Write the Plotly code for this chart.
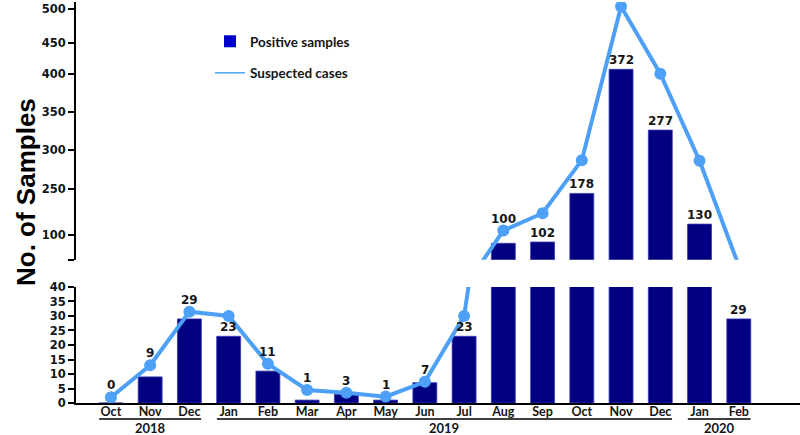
import plotly.graph_objects as go

# ---------------- data ----------------
months = ["Oct", "Nov", "Dec", "Jan", "Feb", "Mar", "Apr", "May", "Jun", "Jul",
          "Aug", "Sep", "Oct", "Nov", "Dec", "Jan", "Feb"]
years = ["2018"] * 3 + ["2019"] * 12 + ["2020"] * 2
positive = [0, 9, 29, 23, 11, 1, 3, 1, 7, 23, 100, 102, 178, 372, 277, 130, 29]
suspected = [2, 13, 31.5, 30, 13.5, 4.5, 3.5, 2.2, 7.3, 30, 120, 147, 230, 470, 365, 229, 65]
low_ticks = [0, 5, 10, 15, 20, 25, 30, 35, 40]
high_tick_labels = ["100", "250", "300", "350", "400", "450", "500"]

# ---------------- layout constants ----------------
W, H = 800, 435
M_L, M_R, M_T, M_B = 76, 0, 2, 32
PLOT_H = H - M_T - M_B
LOW_DOM = [0, 0.2893]
HIGH_DOM = [0.3574, 1.0]
LOW_RANGE = [0, 40]
HIGH_RANGE = [74.4, 477.2]
# where the (broken) upper-axis tick labels sit on the upper scale
high_tick_pos = [113, 185, 246, 306, 365, 413, 466]
X_RANGE = [-0.89, 17.56]

BAR_COLOR = "#000080"
LINE_COLOR = "#4da0f5"
TXT = "#151515"

x = list(range(len(months)))

low_px = (LOW_DOM[1] - LOW_DOM[0]) * PLOT_H / (LOW_RANGE[1] - LOW_RANGE[0])
high_px = (HIGH_DOM[1] - HIGH_DOM[0]) * PLOT_H / (HIGH_RANGE[1] - HIGH_RANGE[0])


def py(pix):
    return (H - M_B - pix) / PLOT_H


fig = go.Figure()

bar_style = dict(marker=dict(color=BAR_COLOR, line=dict(color="#3a3ab8", width=0.8)),
                 showlegend=False, hoverinfo="skip")
line_style = dict(mode="lines+markers", line=dict(color=LINE_COLOR, width=4),
                  marker=dict(color=LINE_COLOR, size=12), showlegend=False,
                  hoverinfo="skip")

# lower panel
fig.add_trace(go.Bar(x=x, y=positive, xaxis="x", yaxis="y", **bar_style))
fig.add_trace(go.Scatter(x=x, y=suspected, xaxis="x", yaxis="y", **line_style))
# upper panel
fig.add_trace(go.Bar(x=x, y=positive, xaxis="x2", yaxis="y2", **bar_style))
fig.add_trace(go.Scatter(x=x, y=suspected, xaxis="x2", yaxis="y2", **line_style))

# legend entries
fig.add_trace(go.Bar(x=[None], y=[None], name="Positive samples", xaxis="x2", yaxis="y2",
                     marker=dict(color="#0000cc"), legendgroup="a"))
fig.add_trace(go.Scatter(x=[None], y=[None], name="Suspected cases", mode="lines",
                         xaxis="x2", yaxis="y2", line=dict(color=LINE_COLOR, width=1.5),
                         legendgroup="b"))

annotations = []
# value labels
for i, (p, s) in enumerate(zip(positive, suspected)):
    upper = p > LOW_RANGE[1]
    scale = high_px if upper else low_px
    gap = (s - p) * scale
    if 0 <= gap < 16:
        anchor, shift = s, 12
    else:
        anchor, shift = p, 9
    annotations.append(dict(
        x=i, y=anchor, xref="x2" if upper else "x", yref="y2" if upper else "y",
        text=str(p), showarrow=False, xanchor="center", yanchor="middle", yshift=shift,
        font=dict(family="DejaVu Sans", size=12, color=TXT, weight="bold")))

# y-axis title
annotations.append(dict(
    x=(26 - M_L) / (W - M_L - M_R), y=py(192), xref="paper", yref="paper",
    text="No. of Samples", textangle=-90, showarrow=False,
    xanchor="center", yanchor="middle",
    font=dict(family="Liberation Sans", size=26, color="#000", weight="bold")))

# year groups
shapes = []
for yr in dict.fromkeys(years):
    idx = [i for i, v in enumerate(years) if v == yr]
    i0, i1 = idx[0], idx[-1]
    shapes.append(dict(type="line", xref="x", yref="paper",
                       x0=i0 - 0.3, x1=i1 + 0.3, y0=py(419), y1=py(419),
                       line=dict(color="#000", width=1.6)))
    annotations.append(dict(
        x=(i0 + i1) / 2, y=py(428), xref="x", yref="paper",
        text=yr, showarrow=False, xanchor="center", yanchor="middle",
        font=dict(family="Lato", size=13, color=TXT, weight="bold")))

tickfont = dict(family="DejaVu Sans", size=11.5, color=TXT, weight="bold")

fig.update_layout(
    width=W, height=H, template="none",
    margin=dict(l=M_L, r=M_R, t=M_T, b=M_B),
    paper_bgcolor="white", plot_bgcolor="white",
    barmode="overlay", bargap=0.39,
    xaxis=dict(domain=[0, 1], anchor="y", range=X_RANGE, tickmode="array",
               tickvals=x, ticktext=months, showgrid=False, zeroline=False,
               showline=True, linecolor="#000", linewidth=2, ticks="",
               ticklabelstandoff=-4,
               tickfont=dict(family="Lato", size=12.5, color=TXT, weight="bold")),
    yaxis=dict(domain=LOW_DOM, anchor="x", range=LOW_RANGE, tickmode="array",
               tickvals=low_ticks, ticktext=[str(v) for v in low_ticks],
               showgrid=False, zeroline=False, showline=True, linecolor="#000",
               linewidth=2, ticks="outside", ticklen=6, tickwidth=1.5,
               tickcolor="#000", tickfont=tickfont),
    xaxis2=dict(domain=[0, 1], anchor="y2", range=X_RANGE, matches="x",
                showgrid=False, zeroline=False, showline=False,
                showticklabels=False, ticks=""),
    yaxis2=dict(domain=HIGH_DOM, anchor="x2", range=HIGH_RANGE, tickmode="array",
                tickvals=[HIGH_RANGE[0]] + high_tick_pos,
                ticktext=[""] + high_tick_labels,
                showgrid=False, zeroline=False, showline=True, linecolor="#000",
                linewidth=2, ticks="outside", ticklen=6, tickwidth=1.5,
                tickcolor="#000", tickfont=tickfont),
    legend=dict(x=(210 - M_L) / (W - M_L), y=py(26),
                xanchor="left", yanchor="top", bgcolor="rgba(0,0,0,0)",
                tracegroupgap=11, traceorder="grouped",
                font=dict(family="Lato", size=13.5, color=TXT, weight="bold")),
    annotations=annotations, shapes=shapes,
)

fig.write_html("out.html", config={"displayModeBar": False},
               post_script="document.body.style.margin='0';"
                           "document.body.style.overflow='hidden';")
